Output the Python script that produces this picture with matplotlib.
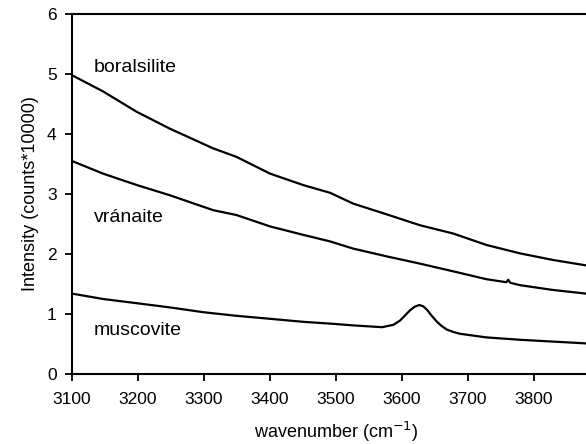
import matplotlib
matplotlib.use('Agg')
import matplotlib.pyplot as plt

plt.rcParams['font.family'] = ['Liberation Sans', 'DejaVu Sans']

# values (intensity in counts*10000)
bor_x = [3100, 3147, 3198, 3248, 3314, 3349, 3400, 3450, 3491, 3526, 3577,
         3627, 3678, 3728, 3779, 3829, 3879, 3900]
bor_y = [4.98, 4.71, 4.37, 4.09, 3.76, 3.62, 3.34, 3.15, 3.02, 2.84, 2.66,
         2.48, 2.34, 2.15, 2.01, 1.90, 1.81, 1.78]

vra_x = [3100, 3147, 3198, 3248, 3314, 3349, 3400, 3450, 3491, 3526, 3577,
         3627, 3678, 3728, 3758, 3761, 3764, 3779, 3829, 3879, 3900]
vra_y = [3.55, 3.34, 3.15, 2.98, 2.73, 2.65, 2.46, 2.32, 2.21, 2.09, 1.96,
         1.84, 1.71, 1.58, 1.53, 1.57, 1.52, 1.48, 1.40, 1.34, 1.32]

mus_x = [3100, 3147, 3198, 3248, 3299, 3349, 3400, 3450, 3491, 3526, 3570,
         3587, 3597, 3605, 3612, 3619, 3626, 3632, 3638, 3645, 3653, 3660,
         3668, 3678, 3688, 3728, 3779, 3829, 3879, 3900]
mus_y = [1.34, 1.25, 1.18, 1.11, 1.03, 0.97, 0.92, 0.87, 0.84, 0.81, 0.78,
         0.82, 0.89, 0.98, 1.06, 1.12, 1.15, 1.13, 1.07, 0.97, 0.87, 0.80,
         0.74, 0.70, 0.67, 0.61, 0.57, 0.54, 0.51, 0.50]

names = ['boralsilite', 'vránaite', 'muscovite']
name_pos = [(3133, 5.1), (3133, 2.6), (3133, 0.73)]

fig = plt.figure(figsize=(5.86, 4.44), dpi=100)
ax = fig.add_axes([72 / 586, 70 / 444, 528 / 586, 360 / 444])

for xs, ys in [(bor_x, bor_y), (vra_x, vra_y), (mus_x, mus_y)]:
    ax.plot(xs, ys, color='black', lw=1.6)

for name, (tx, ty) in zip(names, name_pos):
    ax.text(tx, ty, name, fontsize=14, va='center', ha='left')

ax.set_xlim(3100, 3900)
ax.set_ylim(0, 6)
ax.set_xticks(range(3100, 3900, 100))
ax.set_yticks(range(0, 7))
ax.tick_params(direction='out', length=5, width=1.3, labelsize=12.5)
ax.tick_params(axis='x', pad=8)
ax.tick_params(axis='y', pad=6)
for s in ax.spines.values():
    s.set_linewidth(1.5)
ax.spines['right'].set_visible(False)

ax.set_xlabel('wavenumber (cm$^{-1}$)', fontsize=13, labelpad=9)
ax.set_ylabel('Intensity (counts*10000)', fontsize=13, labelpad=6)

fig.savefig('out.png', dpi=100)
